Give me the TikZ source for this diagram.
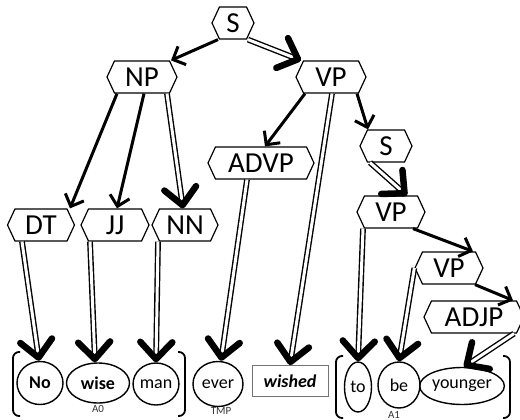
\documentclass[tikz,border=0pt]{standalone}
\usepackage{fontspec}
\setmainfont{Carlito}
\usetikzlibrary{shapes.symbols,shapes.geometric,arrows.meta}

\begin{document}
\begin{tikzpicture}[x=1pt,y=-1pt,
  hex/.style={signal, signal to=west and east, signal pointer angle=130,
    draw, line width=1.2pt, inner sep=0pt, minimum height=32pt,
    font=\fontsize{29}{30}\selectfont},
  leaf/.style={ellipse, draw, line width=1.4pt, inner sep=0pt,
    font=\fontsize{18}{20}\selectfont},
  wordbox/.style={rectangle, draw=black!55, line width=0.8pt, inner sep=0pt,
    font=\fontsize{18}{20}\selectfont\bfseries\itshape},
  role/.style={font=\fontsize{11}{12}\selectfont, text=black!80},
  arc1/.style={line width=3pt, -{Straight Barb[length=10pt,width=20pt,line width=3pt]}},
  arc2/.style={double, double distance=3pt, line width=1.4pt,
    -{Straight Barb[length=17pt,width=32pt,line width=6.5pt,round]}},
  brack/.style={line width=1.8pt, rounded corners=6pt},
]
\useasboundingbox (0,0) rectangle (520,420);

% phrase nodes
\node[hex, minimum width=42pt] (s1) at (233,23) {S};
\node[hex, minimum width=70pt] (np) at (142,77) {NP};
\node[hex, minimum width=70pt] (vp1) at (331,77) {VP};
\node[hex, minimum width=106pt] (advp) at (261,163) {ADVP};
\node[hex, minimum width=52pt] (s2) at (386,146) {S};
\node[hex, minimum width=67pt] (dt) at (41,225) {DT};
\node[hex, minimum width=68pt] (jj) at (115,225) {JJ};
\node[hex, minimum width=66pt] (nn) at (185,225) {NN};
\node[hex, minimum width=68pt] (vp2) at (391,212) {VP};
\node[hex, minimum width=68pt] (vp3) at (449,268) {VP};
\node[hex, minimum width=100pt] (adjp) at (474,317) {ADJP};

% words
\node[leaf, minimum width=46pt, minimum height=43pt, font=\fontsize{18}{20}\selectfont\bfseries] (w1) at (40,383) {No};
\node[leaf, minimum width=63pt, minimum height=40pt, font=\fontsize{18}{20}\selectfont\bfseries] (w2) at (98,383) {wise};
\node[leaf, minimum width=42pt, minimum height=42pt] (w3) at (156,384) {man};
\node[leaf, minimum width=50pt, minimum height=45pt] (w4) at (218,384) {ever};
\node[wordbox, minimum width=76pt, minimum height=31pt] (w5) at (290,381) {wished};
\node[leaf, minimum width=27pt, minimum height=50pt] (w6) at (358,387) {to};
\node[leaf, minimum width=42pt, minimum height=46pt] (w7) at (399,385) {be};
\node[leaf, minimum width=73pt, minimum height=37pt] (w8) at (462,386) {younger};

% argument labels
\node[role] (r0) at (98,409) {A0};
\node[role] (rt) at (221,411) {TMP};
\node[role] (r1) at (394,415) {A1};

% argument brackets
\draw[brack] (20,352) -- (13,352) -- (13,416) -- (20,416);
\draw[brack] (178,352) -- (185,352) -- (185,416) -- (178,416);
\draw[brack] (343,356) -- (336,356) -- (336,418) -- (343,418);
\draw[brack] (503,356) -- (510,356) -- (510,418) -- (503,418);

% tree edges
\draw[arc1] ([xshift=-15pt]s1.south) -- ([xshift=29pt]np.north);
\draw[arc2] ([xshift=15pt]s1.south) -- ([xshift=-30pt]vp1.north);
\draw[arc1] ([xshift=-25pt]np.south) -- ([xshift=29pt]dt.north);
\draw[arc1] ([xshift=2pt]np.south) -- ([xshift=2pt]jj.north);
\draw[arc2] ([xshift=25pt]np.south) -- ([xshift=-2pt]nn.north);
\draw[arc1] ([xshift=-26pt]vp1.south) -- ([xshift=4pt]advp.north);
\draw[arc2] ([xshift=1pt]vp1.south) -- (w5.north);
\draw[arc1] ([xshift=26pt]vp1.south) -- ([xshift=-18pt]s2.north);
\draw[arc2] ([xshift=-16pt]s2.south) -- ([xshift=16pt]vp2.north);
\draw[arc2] ([xshift=-14pt]advp.south) -- ([xshift=3pt]w4.north);
\draw[arc2] ([xshift=-19pt]dt.south) -- ([xshift=-1pt]w1.north);
\draw[arc2] ([xshift=-25pt]jj.south) -- ([xshift=-3pt]w2.north);
\draw[arc2] ([xshift=-27pt]nn.south) -- (w3.north);
\draw[arc2] ([xshift=-28pt]vp2.south) -- (w6.north);
\draw[arc1] ([xshift=22pt]vp2.south) -- ([xshift=24pt]vp3.north);
\draw[arc2] (vp3.west) -- (w7.north);
\draw[arc1] ([xshift=26pt]vp3.south) -- ([xshift=39pt]adjp.north);
\draw[arc2] ([xshift=40pt]adjp.south) -- ([xshift=2pt]w8.north);
\end{tikzpicture}
\end{document}
